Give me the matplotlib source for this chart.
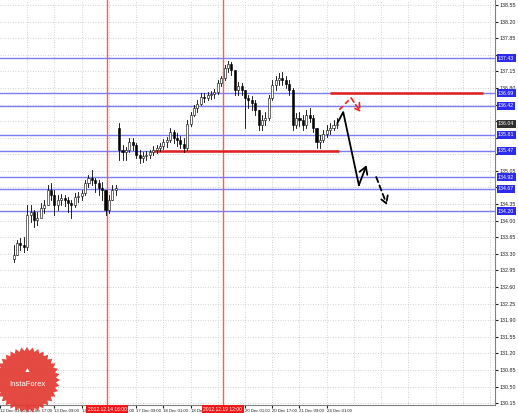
import numpy as np
import matplotlib
matplotlib.use('Agg')
import matplotlib.pyplot as plt
from matplotlib.patches import Rectangle, Polygon
from matplotlib.transforms import blended_transform_factory

plt.rcParams['font.family'] = ['Liberation Sans', 'DejaVu Sans']

# GBP/JPY H1, one candle every 2 hours, hours counted from 12 Dec 17:00
hours = list(range(-8, 184, 2))
closes = [133.27, 133.53, 133.49, 133.44, 134.12, 134.18, 134.01, 134.06, 134.27, 134.33,
          134.65, 134.54, 134.33, 134.44, 134.48, 134.44, 134.37, 134.33, 134.50, 134.52,
          134.58, 134.80, 134.90, 134.86, 134.80, 134.69, 134.65, 134.22, 134.44, 134.65,
          134.69, 135.49, 135.45, 135.49, 135.66, 135.60, 135.39, 135.32, 135.37, 135.39,
          135.45, 135.49, 135.53, 135.58, 135.66, 135.70, 135.87, 135.74, 135.70, 135.62,
          135.53, 136.04, 136.23, 136.38, 136.46, 136.61, 136.59, 136.65, 136.67, 136.71,
          136.90, 137.01, 137.22, 137.30, 137.18, 136.76, 136.84, 136.76, 136.59, 136.55,
          136.48, 136.34, 136.02, 136.12, 136.17, 136.59, 136.86, 136.97, 137.01, 136.97,
          136.88, 136.76, 136.02, 136.17, 136.12, 136.02, 136.23, 136.17, 135.96, 135.66,
          135.70, 135.83, 135.91, 135.96, 136.02, 136.04]
highs = [133.49, 133.59, 133.63, 133.66, 134.33, 134.33, 134.22, 134.18, 134.37, 134.44,
         134.75, 134.80, 134.65, 134.54, 134.56, 134.54, 134.50, 134.44, 134.58, 134.60,
         134.65, 134.86, 134.96, 135.07, 134.90, 134.86, 134.82, 134.65, 134.54, 134.75,
         134.75, 136.06, 135.60, 135.56, 135.74, 135.74, 135.64, 135.49, 135.45, 135.47,
         135.49, 135.58, 135.60, 135.64, 135.72, 135.77, 135.96, 135.91, 135.85, 135.79,
         135.74, 136.12, 136.29, 136.44, 136.55, 136.69, 136.69, 136.71, 136.74, 136.78,
         136.97, 137.05, 137.28, 137.37, 137.35, 137.18, 136.93, 136.90, 136.76, 136.65,
         136.63, 136.55, 136.34, 136.23, 136.29, 136.65, 136.97, 137.05, 137.12, 137.14,
         137.05, 136.97, 136.80, 136.27, 136.29, 136.23, 136.34, 136.38, 136.23, 135.96,
         135.81, 135.91, 136.02, 136.06, 136.12, 136.17]
lows = [133.13, 133.27, 133.38, 133.34, 133.38, 133.97, 133.87, 133.91, 134.12, 134.16,
        134.33, 134.44, 134.12, 134.22, 134.33, 134.31, 134.18, 134.06, 134.29, 134.40,
        134.44, 134.54, 134.71, 134.75, 134.60, 134.54, 134.44, 134.12, 134.16, 134.44,
        134.54, 135.28, 135.28, 135.28, 135.45, 135.49, 135.32, 135.22, 135.24, 135.28,
        135.32, 135.39, 135.43, 135.47, 135.51, 135.56, 135.66, 135.64, 135.58, 135.53,
        135.45, 135.49, 136.00, 136.21, 136.29, 136.44, 136.50, 136.55, 136.57, 136.59,
        136.67, 136.84, 136.97, 137.14, 137.07, 136.65, 136.65, 136.65, 135.96, 136.38,
        136.34, 136.23, 135.91, 135.91, 136.02, 136.12, 136.55, 136.76, 136.86, 136.86,
        136.80, 136.65, 135.91, 135.96, 136.00, 135.91, 135.96, 136.08, 135.87, 135.53,
        135.53, 135.66, 135.77, 135.83, 135.91, 135.96]
first_open = 133.20
gap_hour = 54
gap_open = 135.96

tick_hours = [-16, 0, 16, 32, 48, 64, 80, 96, 112, 128, 144, 160, 176]
tick_labels = ['12 Dec 01:00', '12 Dec 17:00', '13 Dec 09:00', '14 Dec 01:00', '14 Dec 17:00',
               '17 Dec 09:00', '18 Dec 01:00', '18 Dec 17:00', '19 Dec 09:00', '20 Dec 01:00',
               '20 Dec 17:00', '21 Dec 09:00', '24 Dec 01:00']
grid_hours = list(range(0, 280, 16))
price_ticks = [round(130.15 + 0.35 * k, 2) for k in range(25)]

levels = [137.43, 136.69, 136.42, 135.81, 135.47, 134.92, 134.67, 134.20]
red_levels = [136.69, 135.47]
red_starts = [177.7, 73.7]
red_ends = [268.0, 183.4]

marker_hours = [47, 115]
marker_labels = ['2012.12.14 16:00', '2012.12.19 12:00']

black_h = [182.3, 185.7, 194.9, 199.4]
black_p = [136.06, 136.29, 134.75, 135.17]
black_dash_h = [205.1, 211.4]
black_dash_p = [134.92, 134.33]
red_h = [183.4, 190.3, 196.0]
red_p = [136.34, 136.59, 136.29]

W, H = 518, 413
fig = plt.figure(figsize=(W / 100, H / 100), dpi=100)
ax = fig.add_axes([0, 8 / H, 495 / W, 1 - 8 / H])
ax.set_xlim(-8, 274.9)
ax.set_ylim(130.11, 138.655)

# grid
for g in grid_hours:
    ax.axvline(g, color='#c4c4c4', lw=0.6, ls=(0, (1, 2)), zorder=0)
for p in price_ticks:
    ax.axhline(p, color='#c4c4c4', lw=0.6, ls=(0, (1, 2)), zorder=0)

# levels
for lv in levels:
    ax.axhline(lv, color='#7c7cf4', lw=1.0, zorder=1)
for lv, x0, x1 in zip(red_levels, red_starts, red_ends):
    ax.plot([x0, x1], [lv, lv], color='#e0201c', lw=1.8, zorder=2, solid_capstyle='butt')
for mh in marker_hours:
    ax.axvline(mh, color='#ff5a5a', lw=1.0, zorder=1)

# candles
opens = [first_open] + closes[:-1]
opens[hours.index(gap_hour)] = gap_open
for h, o, hi, lo, c in zip(hours, opens, highs, lows, closes):
    ax.plot([h, h], [lo, hi], color='black', lw=0.6, zorder=3)
    fc = 'white' if c >= o else 'black'
    ax.add_patch(Rectangle((h - 0.6, min(o, c)), 1.2, max(abs(c - o), 0.01),
                           facecolor=fc, edgecolor='black', lw=0.4, zorder=4))

# forecast arrows
head = '->,head_length=0.5,head_width=0.3'
ax.plot(black_h[:-1], black_p[:-1], color='black', lw=1.3, zorder=5)
ax.annotate('', xy=(black_h[-1], black_p[-1]), xytext=(black_h[-2], black_p[-2]),
            arrowprops=dict(arrowstyle=head, color='black', lw=1.3, shrinkA=0, shrinkB=0), zorder=5)
ax.annotate('', xy=(black_dash_h[1], black_dash_p[1]), xytext=(black_dash_h[0], black_dash_p[0]),
            arrowprops=dict(arrowstyle=head, color='black', lw=1.3, ls=(0, (3, 2)),
                            shrinkA=0, shrinkB=0), zorder=5)
ax.plot(red_h[:-1], red_p[:-1], color='#f02020', lw=1.2, ls=(0, (3, 2)), zorder=5)
ax.annotate('', xy=(red_h[-1], red_p[-1]), xytext=(red_h[-2], red_p[-2]),
            arrowprops=dict(arrowstyle=head, color='#f02020', lw=1.2, ls=(0, (3, 2)),
                            shrinkA=0, shrinkB=0), zorder=5)

# axes styling
for s in ['top', 'left']:
    ax.spines[s].set_visible(False)
ax.spines['right'].set_color('#808080')
ax.spines['bottom'].set_color('#808080')
ax.yaxis.tick_right()
ax.set_yticks(price_ticks)
# labels hidden under the coloured level boxes
boxed = levels + [closes[-1]]
ax.set_yticklabels(['' if min(abs(p - b) for b in boxed) < 0.1 else '%.2f' % p
                    for p in price_ticks])
ax.tick_params(axis='y', labelsize=3.8, length=2, pad=1.5, colors='#202020')
ax.set_xticks(tick_hours)
ax.set_xticklabels(tick_labels, ha='left')
ax.tick_params(axis='x', labelsize=3.1, length=2, pad=1.2, colors='#202020')

ytr = blended_transform_factory(ax.transAxes, ax.transData)
for lv in levels:
    ax.text(1.006, lv, '%.2f' % lv, transform=ytr, fontsize=3.8, color='white', va='center',
            ha='left', clip_on=False, zorder=10,
            bbox=dict(boxstyle='square,pad=0.25', fc='#2a2af0', ec='none'))
ax.text(1.006, closes[-1], '%.2f' % closes[-1], transform=ytr, fontsize=3.8, color='white',
        va='center', ha='left', clip_on=False, zorder=10,
        bbox=dict(boxstyle='square,pad=0.25', fc='#303030', ec='none'))

xtr = blended_transform_factory(ax.transData, ax.transAxes)
for mh, ml in zip(marker_hours, marker_labels):
    ax.text(mh, -0.0105, ml, transform=xtr, fontsize=3.6, color='white', va='center', ha='center',
            clip_on=False, zorder=10,
            bbox=dict(boxstyle='square,pad=0.35', fc='#f01818', ec='none'))

# InstaForex badge
cx, cy = 27 / W, (H - 380) / H
ang = np.linspace(0, 2 * np.pi, 73)[:-1]
rad = np.where(np.arange(72) % 2 == 0, 33, 29)
pts = np.column_stack([cx + rad * np.cos(ang) / W, cy + rad * np.sin(ang) / H])
fig.add_artist(Polygon(pts, closed=True, transform=fig.transFigure, fc='#e23a32', ec='none',
                       alpha=0.92, zorder=20))
fig.text(cx, cy - 4 / H, 'InstaForex', color='white', fontsize=5.5, ha='center', va='center',
         zorder=21)
fig.text(cx, cy + 9 / H, '\u25b2', color='white', fontsize=5, ha='center', va='center', zorder=21)

plt.savefig('out.png', dpi=100)
